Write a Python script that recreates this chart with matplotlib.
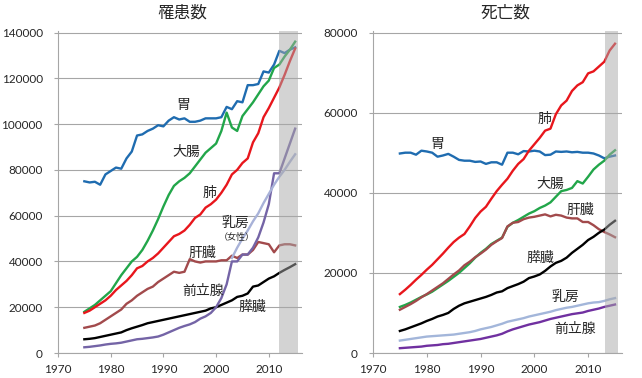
import numpy as np
import matplotlib.pyplot as plt

plt.rcParams['font.family'] = ['Lato', 'Noto Sans CJK JP', 'DejaVu Sans']

years = np.arange(1975, 2016)

# 罹患数 (incidence)
inc_stomach = [75000, 74500, 74800, 73500, 78000, 79500, 81000, 80500, 85000, 88000,
               95000, 95500, 97000, 98000, 99500, 99000, 101500, 103000, 102000, 102500,
               101000, 101000, 101500, 102500, 102500, 102500, 103000, 107500, 106500, 110000,
               109500, 117000, 117000, 117500, 123000, 122500, 126000, 132000, 131000, 132500,
               133500]
inc_colon = [18000, 19500, 21000, 23000, 25000, 27000, 30500, 34000, 37000, 40000,
             42000, 45000, 49000, 53500, 58500, 64000, 69000, 73000, 75000, 76500,
             78500, 81500, 84500, 87500, 89500, 91500, 97000, 105000, 98500, 97000,
             103500, 106500, 109500, 113000, 116500, 119000, 124500, 126000, 129500, 132500,
             136000]
inc_lung = [17500, 18500, 20000, 21500, 23000, 25000, 27500, 29500, 31500, 34000,
            37000, 38000, 40000, 41500, 43500, 46000, 48500, 51000, 52000, 53500,
            56000, 59000, 60500, 63500, 65000, 67000, 70000, 73500, 78000, 80000,
            83000, 85000, 92000, 96000, 103000, 107000, 111500, 116000, 121500, 127500,
            133000]
inc_liver = [11000, 11500, 12000, 13000, 14500, 16000, 17500, 19000, 21500, 23000,
             25000, 26500, 28000, 29000, 31000, 32500, 34000, 35500, 35000, 35500,
             41000, 40000, 39500, 40000, 40000, 40000, 40500, 40500, 42500, 41500,
             43000, 43000, 45000, 48500, 48000, 47500, 44000, 47000, 47500, 47500,
             47000]
inc_pancreas = [6000, 6200, 6500, 7000, 7500, 8000, 8500, 9000, 10000, 10800,
                11500, 12200, 13000, 13500, 14000, 14500, 15000, 15500, 16000, 16500,
                17000, 17500, 18000, 18500, 19500, 20000, 21000, 22000, 23000, 24500,
                25000, 26000, 29000, 29500, 31000, 32500, 33500, 35000, 36300, 37500,
                38800]
inc_prostate = [2500, 2700, 3000, 3300, 3700, 4000, 4200, 4500, 5000, 5500,
                6000, 6200, 6500, 6800, 7200, 8000, 9000, 10000, 11000, 11800,
                12500, 13500, 15000, 16000, 17500, 20000, 24000, 30000, 40000, 40000,
                43000, 43000, 46000, 50500, 57000, 65000, 78500, 78500, 85000, 91500,
                98000]
inc_breast_years = np.arange(2003, 2016)
inc_breast = [41500, 46000, 50000, 53500, 57500, 61000, 65500, 69500, 73500, 77000,
              80000, 83500, 86800]

# 死亡数 (deaths)
dth_stomach = [49800, 50000, 50000, 49500, 50500, 50300, 50000, 49000, 49300, 49700,
               49000, 48200, 48000, 48000, 47700, 47800, 47200, 47600, 47600, 47000,
               50000, 50000, 49600, 50400, 50300, 50500, 50300, 49400, 49500, 50300,
               50200, 50300, 50100, 50200, 50000, 50000, 49800, 49300, 48600, 49000,
               49300]
dth_lung = [14700, 15800, 17000, 18300, 19500, 20800, 22000, 23400, 24800, 26300,
            27700, 28800, 29700, 31600, 33700, 35300, 36500, 38500, 40400, 42000,
            43500, 45500, 47200, 48400, 50500, 52100, 53700, 55500, 56000, 59600,
            61800, 63000, 65400, 66800, 67600, 69800, 70300, 71500, 72700, 75500,
            77200]
dth_colon = [11500, 12000, 12600, 13300, 14000, 14600, 15300, 16200, 17100, 18000,
             19000, 20000, 21200, 22400, 23800, 25000, 26000, 27200, 28000, 28800,
             31500, 32500, 33200, 34000, 34800, 35400, 36200, 36800, 37600, 39000,
             40400, 40700, 41200, 42900, 42300, 44000, 45800, 47000, 48000, 49500,
             50600]
dth_liver = [10800, 11500, 12200, 13000, 13900, 14700, 15600, 16500, 17400, 18500,
             19600, 20600, 21900, 22800, 23900, 24800, 25800, 27000, 27900, 28700,
             31600, 32500, 32700, 33400, 33800, 34000, 34300, 34600, 34100, 34500,
             34300, 33800, 33600, 33600, 32700, 32700, 31900, 30900, 30200, 29600,
             28900]
dth_pancreas = [5500, 5900, 6400, 6900, 7400, 8000, 8500, 9100, 9500, 10000,
                11000, 11800, 12400, 12800, 13200, 13600, 14000, 14500, 15100, 15400,
                16200, 16700, 17200, 17800, 18700, 19100, 19600, 20500, 21600, 22500,
                23000, 23800, 25000, 26000, 27000, 28200, 29000, 30000, 30800, 32000,
                33000]
dth_breast = [3100, 3300, 3500, 3700, 3900, 4100, 4200, 4300, 4400, 4500,
              4600, 4800, 5000, 5200, 5500, 5900, 6200, 6500, 6900, 7300,
              7800, 8100, 8400, 8700, 9100, 9400, 9700, 10000, 10300, 10700,
              11000, 11300, 11500, 11800, 12100, 12400, 12600, 12700, 13000, 13400,
              13700]
dth_prostate = [1200, 1300, 1400, 1500, 1600, 1800, 1900, 2000, 2200, 2300,
                2500, 2700, 2900, 3100, 3300, 3500, 3800, 4100, 4400, 4800,
                5400, 5900, 6300, 6700, 7100, 7400, 7700, 8100, 8500, 8800,
                9100, 9400, 9700, 9900, 10100, 10500, 10800, 11100, 11500, 11800,
                12100]

C_STOMACH = '#1f6cb0'
C_COLON = '#22a64a'
C_LUNG = '#e8161c'
C_LIVER = '#a24a4c'
C_PANC = '#000000'
GRID = '#a6a6a6'
TXT = '#262626'

fig = plt.figure(figsize=(6.42, 3.78), dpi=100)
ax1 = fig.add_axes([58 / 642, 25 / 378, 244 / 642, 322.3 / 378])
ax2 = fig.add_axes([373 / 642, 25 / 378, 249 / 642, 322.3 / 378])

lw = 1.7
ax1.plot(years, inc_stomach, color=C_STOMACH, lw=lw)
ax1.plot(years, inc_colon, color=C_COLON, lw=lw)
ax1.plot(years, inc_lung, color=C_LUNG, lw=lw)
ax1.plot(years, inc_liver, color=C_LIVER, lw=lw)
ax1.plot(years, inc_pancreas, color=C_PANC, lw=lw)
ax1.plot(years, inc_prostate, color='#7464a6', lw=lw)
ax1.plot(inc_breast_years, inc_breast, color='#a8b2d8', lw=lw)

ax2.plot(years, dth_stomach, color=C_STOMACH, lw=lw)
ax2.plot(years, dth_lung, color=C_LUNG, lw=lw)
ax2.plot(years, dth_colon, color=C_COLON, lw=lw)
ax2.plot(years, dth_liver, color=C_LIVER, lw=lw)
ax2.plot(years, dth_pancreas, color=C_PANC, lw=lw)
ax2.plot(years, dth_breast, color='#a3b6da', lw=lw)
ax2.plot(years, dth_prostate, color='#7030a0', lw=lw)

# projection period (shaded)
ax1.axvspan(2012.0, 2015.5, color='#a8a8a8', alpha=0.5, lw=0, zorder=5)
ax2.axvspan(2013.2, 2015.6, color='#a8a8a8', alpha=0.5, lw=0, zorder=5)

for ax, ymax, step in [(ax1, 140000, 20000), (ax2, 80000, 20000)]:
    ax.set_xlim(1970, 2016.3)
    ax.set_ylim(0, ymax * (322.3 / 320.5))
    ax.set_yticks(np.arange(0, ymax + 1, step))
    ax.set_xticks([1970, 1980, 1990, 2000, 2010])
    ax.yaxis.grid(True, color=GRID, lw=0.8)
    ax.set_axisbelow(True)
    for s in ['top', 'right']:
        ax.spines[s].set_visible(False)
    for s in ['left', 'bottom']:
        ax.spines[s].set_color(GRID)
        ax.spines[s].set_linewidth(0.8)
    ax.tick_params(axis='both', colors=GRID, labelcolor=TXT, labelsize=8.5,
                   length=3, width=0.8)
    ax.tick_params(axis='y', pad=8)
    ax.tick_params(axis='x', pad=5)

fs = 10
ax1.text(1993.7, 108200, '胃', fontsize=fs, color=TXT, ha='center', va='center')
ax1.text(1994.3, 88100, '大腸', fontsize=fs, color=TXT, ha='center', va='center')
ax1.text(1998.8, 70200, '肺', fontsize=fs, color=TXT, ha='center', va='center')
ax1.text(2003.6, 57100, '乳房', fontsize=fs, color=TXT, ha='center', va='center')
ax1.text(2003.9, 50600, '（女性）', fontsize=6.5, color=TXT, ha='center', va='center')
ax1.text(1997.3, 44000, '肝臓', fontsize=fs, color=TXT, ha='center', va='center')
ax1.text(1997.5, 27500, '前立腺', fontsize=fs, color=TXT, ha='center', va='center')
ax1.text(2006.8, 20500, '膵臓', fontsize=fs, color=TXT, ha='center', va='center')

ax2.text(1981.9, 52100, '胃', fontsize=fs, color=TXT, ha='center', va='center')
ax2.text(2001.8, 58600, '肺', fontsize=fs, color=TXT, ha='center', va='center')
ax2.text(2002.9, 42400, '大腸', fontsize=fs, color=TXT, ha='center', va='center')
ax2.text(2008.5, 35900, '肝臓', fontsize=fs, color=TXT, ha='center', va='center')
ax2.text(2001.1, 23900, '膵臓', fontsize=fs, color=TXT, ha='center', va='center')
ax2.text(2005.7, 14000, '乳房', fontsize=fs, color=TXT, ha='center', va='center')
ax2.text(2007.6, 6200, '前立腺', fontsize=fs, color=TXT, ha='center', va='center')

fig.text(182 / 642, 1 - 13 / 378, '罹患数', fontsize=12, color=TXT,
         ha='center', va='center')
fig.text(505 / 642, 1 - 13 / 378, '死亡数', fontsize=12, color=TXT,
         ha='center', va='center')

fig.savefig('out.png', dpi=100)
